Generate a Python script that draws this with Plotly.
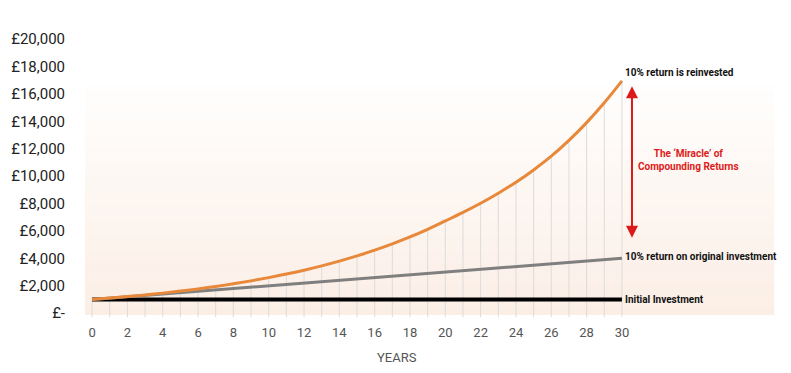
import plotly.graph_objects as go

years = list(range(0, 31))
compound = [1000, 1100, 1210, 1331, 1464, 1611, 1772, 1949, 2144, 2358, 2594,
            2853, 3138, 3452, 3797, 4177, 4595, 5054, 5560, 6116, 6727,
            7350, 8020, 8750, 9550, 10450, 11450, 12600, 13900, 15350, 16950]
simple = [1000, 1100, 1200, 1300, 1400, 1500, 1600, 1700, 1800, 1900, 2000,
          2100, 2200, 2300, 2400, 2500, 2600, 2700, 2800, 2900, 3000,
          3100, 3200, 3300, 3400, 3500, 3600, 3700, 3800, 3900, 4000]
initial = [1000] * 31
y_ticks = [0, 2000, 4000, 6000, 8000, 10000, 12000, 14000, 16000, 18000, 20000]
y_tick_text = ["£-", "£2,000", "£4,000", "£6,000", "£8,000", "£10,000",
               "£12,000", "£14,000", "£16,000", "£18,000", "£20,000"]
x_ticks = list(range(0, 31, 2))

fig = go.Figure()

# vertical guide lines from the bottom up to the compounding curve
vx, vy = [], []
for yr, v in zip(years, compound):
    vx += [yr, yr, None]
    vy += [-300, v, None]
fig.add_trace(go.Scatter(x=vx, y=vy, mode="lines",
                         line=dict(color="#dcdcdc", width=1), hoverinfo="skip"))

fig.add_trace(go.Scatter(x=years, y=initial, mode="lines",
                         line=dict(color="#000000", width=4)))
fig.add_trace(go.Scatter(x=years, y=simple, mode="lines",
                         line=dict(color="#7f7f7f", width=3)))
fig.add_trace(go.Scatter(x=years, y=compound, mode="lines", line_shape="spline",
                         line=dict(color="#e8883a", width=3)))

# gradient background (white at top to peach at bottom)
shapes = []
n = 40
top, bottom = 0.835, 0.011
for i in range(n):
    t = (i + 0.5) / n
    r = round(255 + (251 - 255) * t)
    g = round(254 + (238 - 254) * t)
    b = round(253 + (229 - 253) * t)
    y0 = top - (top - bottom) * i / n
    y1 = top - (top - bottom) * (i + 1) / n
    shapes.append(dict(type="rect", xref="paper", yref="paper",
                       x0=0, x1=1.267, y0=y1, y1=y0 + 0.001,
                       fillcolor=f"rgb({r},{g},{b})", line=dict(width=0),
                       layer="below"))

lab_font = dict(family="Roboto, Arial, sans-serif", size=10, color="#111111")
red = "#dd1a1a"
annotations = [
    dict(x=30.05, y=17550, xref="x", yref="y", text="<b>10% return is reinvested</b>",
         showarrow=False, xanchor="left", yanchor="middle", font=lab_font),
    dict(x=30.05, y=4170, xref="x", yref="y", text="<b>10% return on original investment</b>",
         showarrow=False, xanchor="left", yanchor="middle", font=lab_font),
    dict(x=30.05, y=970, xref="x", yref="y", text="<b>Initial Investment</b>",
         showarrow=False, xanchor="left", yanchor="middle", font=lab_font),
    dict(x=1.110, y=11140, xref="paper", yref="y",
         text="<b>The ‘Miracle’ of<br>Compounding Returns</b>",
         showarrow=False, xanchor="center", yanchor="middle",
         font=dict(family="Roboto, Arial, sans-serif", size=10, color=red)),
    dict(x=1.0055, y=16550, xref="paper", yref="y", ax=0, ay=153,
         text="", showarrow=True, arrowhead=2, startarrowhead=2, arrowside="end+start",
         arrowsize=1.2, arrowwidth=2, arrowcolor=red, standoff=0, startstandoff=0),
    dict(x=0.574, y=-0.143, xref="paper", yref="paper", text="YEARS", showarrow=False,
         xanchor="center", yanchor="middle",
         font=dict(family="Roboto, Arial, sans-serif", size=13, color="#555555")),
]

fig.update_layout(
    width=783, height=365,
    margin=dict(l=77, r=162, t=31, b=55, autoexpand=False),
    paper_bgcolor="white", plot_bgcolor="rgba(0,0,0,0)",
    showlegend=False,
    shapes=shapes,
    annotations=annotations,
    xaxis=dict(range=[-0.4, 30.4], tickvals=x_ticks, showgrid=False, zeroline=False,
               showline=False, ticks="outside", ticklen=2, tickcolor="rgba(0,0,0,0)",
               automargin=False,
               tickfont=dict(family="Roboto, Arial, sans-serif", size=13, color="#555555")),
    yaxis=dict(range=[-350, 20000], tickvals=y_ticks, ticktext=y_tick_text,
               showgrid=False, zeroline=False, showline=False,
               ticks="outside", ticklen=16, tickcolor="rgba(0,0,0,0)",
               automargin=False,
               tickfont=dict(family="Roboto, Arial, sans-serif", size=15, color="#222222")),
)

fig.write_html("out.html")
